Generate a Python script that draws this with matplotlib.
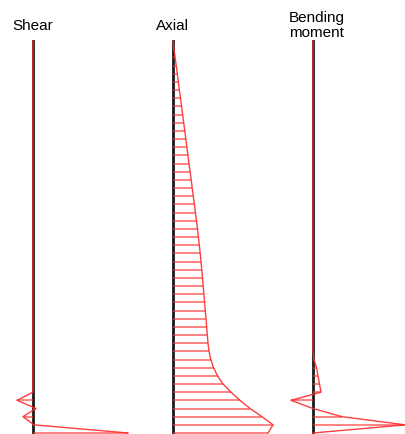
import numpy as np
import matplotlib.pyplot as plt

# depth index (one hatch per step), 0 = top, 48 = bottom
depth = np.arange(49)

shear = [0]*44 + [-16, 3, -10, 1, 95]

axial = [0, 1.0, 2.1, 3.2, 4.3, 5.3, 6.4, 7.5, 8.6, 9.6,
         10.7, 11.8, 12.8, 13.9, 15.0, 16.0, 17.1, 18.2, 19.2, 20.3,
         21.4, 22.4, 23.5, 24.5, 25.4, 26.3, 27.2, 28.0, 28.8, 29.5,
         30.2, 30.9, 31.6, 32.3, 33.0, 33.6, 34.3, 35.0, 36.0, 37.8,
         40.5, 44.5, 50, 58, 67, 77, 89, 100, 95]

bending = [0]*39 + [1, 3.5, 5, 6.5, 8, -22, 0, 29, 92, 0]

titles = ["Shear", "Axial", "Bending\nmoment"]

W, H = 405, 434
fig = plt.figure(figsize=(W/100, H/100), dpi=100)

red = '#ff2a2a'

# (left px, right px, xlim)
panels = [(0, 140, (-33, 107)), (150, 290, (-23, 117)), (290, 405, (-23, 92))]
data = [shear, axial, bending]
title_pos = [(12, 30), (156, 30), (289, 37)]

for (x0, x1, xl), vals, t, (tx, ty) in zip(panels, data, titles, title_pos):
    ax = fig.add_axes([x0/W, (H-433)/H, (x1-x0)/W, 392/H])
    ax.set_xlim(xl)
    ax.set_ylim(48, 0)
    ax.axis('off')
    ax.plot([0, 0], [0, 48], color='#1a1a1a', lw=2, clip_on=False)
    ax.hlines(depth, 0, vals, color=red, lw=1.1, alpha=0.75, clip_on=False)
    ax.plot(vals, depth, color=red, lw=1, alpha=0.9, clip_on=False)
    fig.text(tx/W, 1 - ty/H, t, fontsize=11, family='Liberation Sans',
             ha='left', va='baseline', multialignment='left', linespacing=1.05)

plt.savefig('out.png', dpi=100)
